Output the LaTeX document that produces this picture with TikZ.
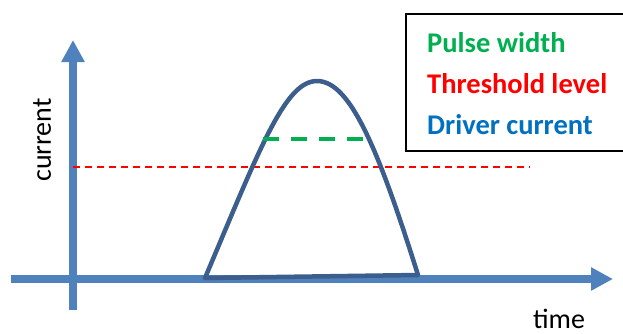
\documentclass[tikz,border=0pt]{standalone}
\usepackage{fontspec}
\setmainfont{Carlito}
\usetikzlibrary{arrows.meta}
\definecolor{axisblue}{HTML}{4F81BD}
\definecolor{curveblue}{HTML}{3B5E8C}
\definecolor{pgreen}{HTML}{00B050}
\definecolor{tred}{HTML}{FF0000}
\definecolor{dblue}{HTML}{0070C0}
\tikzset{
  axisline/.style={draw=axisblue, line width=7.5pt, -{Triangle[length=22pt,width=22pt]}},
  pulse/.style={draw=curveblue, line width=4.5pt, line join=round, line cap=round},
  widthline/.style={draw=pgreen, line width=4pt, dash pattern=on 16pt off 12pt},
  threshline/.style={draw=tred, line width=1.4pt, dash pattern=on 7pt off 5pt},
  legendbox/.style={draw=black, line width=2pt, fill=white},
  legendtext/.style={anchor=base west, inner sep=0pt, font=\fontsize{28.5}{32}\selectfont\bfseries},
  axislabel/.style={inner sep=0pt, font=\fontsize{28}{32}\selectfont}
}
\begin{document}
\begin{tikzpicture}[x=1pt,y=-1pt]
\useasboundingbox (0,0) rectangle (623,333);
% axes
\coordinate (xstart) at (11,279);
\coordinate (xend) at (613,279);
\coordinate (ystart) at (73,310);
\coordinate (yend) at (73,40);
\draw[axisline] (xstart) -- (xend);
\draw[axisline] (ystart) -- (yend);
% threshold
\coordinate (thA) at (73,167);
\coordinate (thB) at (530,167);
\draw[threshline] (thA) -- (thB);
% pulse
\coordinate (footL) at (205,278);
\coordinate (peak) at (317,81);
\coordinate (footR) at (418,275);
\draw[pulse] (footL) .. controls (260,148) and (285,81) .. (peak)
  .. controls (350,81) and (378,148) .. (footR) -- cycle;
% pulse width
\coordinate (pwA) at (263,139);
\coordinate (pwB) at (363,139);
\draw[widthline] (pwA) -- (pwB);
% legend
\node[legendbox, minimum width=222pt, minimum height=137pt, anchor=north west, inner sep=0pt] (legend) at (405,13) {};
\node[legendtext, text=pgreen] (lg1) at (427,52) {Pulse width};
\node[legendtext, text=tred] (lg2) at (427,93) {Threshold level};
\node[legendtext, text=dblue] (lg3) at (427,134) {Driver current};
% labels
\node[axislabel, rotate=90] (ylab) at (42,140) {current};
\node[axislabel, anchor=base] (xlab) at (559,328) {time};
\end{tikzpicture}
\end{document}
